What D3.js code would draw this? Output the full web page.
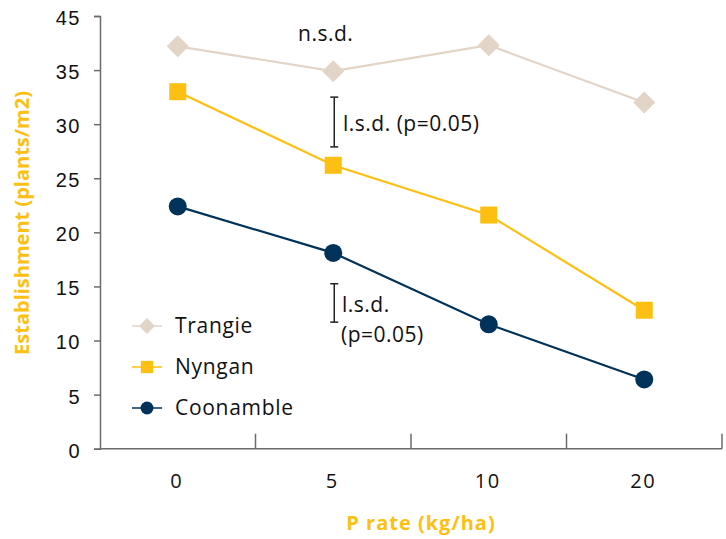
<!DOCTYPE html>
<html>
<head>
<meta charset="utf-8">
<script src="https://cdn.jsdelivr.net/npm/d3@7"></script>
<style>
  body { margin: 0; background: #fff; }
  svg { font-family: "Open Sans", "Lato", sans-serif; }
</style>
</head>
<body>
<div id="chart"></div>
<script>
const categories = ["0", "5", "10", "20"];
const yTickValues = [0, 5, 10, 15, 20, 25, 30, 35, 40];
// the top tick of the original reads "45"
const yTickLabels = ["0", "5", "10", "15", "20", "25", "30", "35", "45"];

const trangie = [37.2, 34.9, 37.3, 32.0];
const nyngan = [33.0, 26.2, 21.6, 12.8];
const coonamble = [22.4, 18.1, 11.5, 6.4];

const seriesNames = ["Trangie", "Nyngan", "Coonamble"];
const seriesColors = ["#e2d4c6", "#fdbf12", "#00325a"];
const seriesShapes = ["diamond", "square", "circle"];

// l.s.d. bars: [category, low, high]
const lsdBars = [
  ["5", 27.9, 32.5],
  ["5", 11.7, 15.25]
];

const width = 726, height = 539;
const margin = { top: 16, right: 4, bottom: 90, left: 100 };

const svg = d3.select("#chart")
  .append("svg")
  .attr("width", width)
  .attr("height", height);

const x = d3.scaleBand()
  .domain(categories)
  .range([margin.left, width - margin.right]);

const y = d3.scaleLinear()
  .domain([0, 40])
  .range([height - margin.bottom - 0.3, margin.top]);

// y axis
const yAxis = svg.append("g")
  .attr("transform", `translate(${margin.left},0)`)
  .call(d3.axisLeft(y).tickValues(yTickValues)
    .tickFormat((d, i) => yTickLabels[i]).tickSize(6).tickPadding(13));
yAxis.select(".domain").attr("stroke", "#6b6b6b").attr("stroke-width", 1.5);
yAxis.selectAll(".tick line").attr("stroke", "#6b6b6b").attr("stroke-width", 1.5);
yAxis.selectAll(".tick text")
  .style("font-size", "20px")
  .style("letter-spacing", "1.5px")
  .attr("dy", "0.42em")
  .attr("fill", "#111");

// x axis: baseline + ticks between categories pointing up
const x0 = y(0);
const xAxis = svg.append("g");
xAxis.append("line")
  .attr("x1", margin.left).attr("x2", width - margin.right)
  .attr("y1", x0).attr("y2", x0)
  .attr("stroke", "#6b6b6b").attr("stroke-width", 1.5);
const bounds = categories.slice(1).map(c => x(c)).concat([x(categories[categories.length - 1]) + x.bandwidth()]);
xAxis.selectAll(".sep")
  .data(bounds)
  .enter()
  .append("line")
  .attr("x1", d => d).attr("x2", d => d)
  .attr("y1", x0).attr("y2", x0 - 15)
  .attr("stroke", "#6b6b6b").attr("stroke-width", 1.5);
xAxis.selectAll(".lbl")
  .data(categories)
  .enter()
  .append("text")
  .attr("x", d => x(d) + x.bandwidth() / 2 - 1)
  .attr("y", x0 + 39)
  .attr("text-anchor", "middle")
  .style("font-size", "20px")
  .style("letter-spacing", "1.5px")
  .attr("fill", "#111")
  .text(d => d);

// axis titles
svg.append("text")
  .attr("x", 421)
  .attr("y", 530)
  .attr("text-anchor", "middle")
  .style("font-size", "20px")
  .style("letter-spacing", "1px")
  .style("font-weight", "bold")
  .attr("fill", "#fdbf12")
  .text("P rate (kg/ha)");

svg.append("text")
  .attr("transform", `translate(29, 223) rotate(-90)`)
  .attr("text-anchor", "middle")
  .style("font-size", "20px")
  .style("font-weight", "bold")
  .attr("fill", "#fdbf12")
  .text("Establishment (plants/m2)");

// series
const seriesData = [trangie, nyngan, coonamble];
const cx = c => x(c) + x.bandwidth() / 2;

const drawMarker = (g, shape, color, px, py) => {
  if (shape === "diamond") {
    g.append("path")
      .attr("d", `M${px},${py - 11} L${px + 11},${py} L${px},${py + 11} L${px - 11},${py} Z`)
      .attr("fill", color);
  } else if (shape === "square") {
    g.append("rect")
      .attr("x", px - 8.5).attr("y", py - 8.5)
      .attr("width", 17).attr("height", 17)
      .attr("fill", color);
  } else {
    g.append("circle")
      .attr("cx", px).attr("cy", py).attr("r", 9)
      .attr("fill", color);
  }
};

const line = d3.line()
  .x((d, i) => cx(categories[i]))
  .y(d => y(d));

seriesData.forEach((vals, s) => {
  const g = svg.append("g");
  g.append("path")
    .datum(vals)
    .attr("d", line)
    .attr("fill", "none")
    .attr("stroke", seriesColors[s])
    .attr("stroke-width", 2.2);
  vals.forEach((v, i) => drawMarker(g, seriesShapes[s], seriesColors[s], cx(categories[i]), y(v)));
});

// legend
const legend = svg.append("g");
seriesNames.forEach((name, i) => {
  const ly = 326 + i * 41;
  legend.append("line")
    .attr("x1", 132).attr("x2", 162)
    .attr("y1", ly).attr("y2", ly)
    .attr("stroke", seriesColors[i])
    .attr("stroke-opacity", 0.75)
    .attr("stroke-width", 2);
  const mg = legend.append("g").attr("transform", `translate(147,${ly}) scale(0.72) translate(-147,${-ly})`);
  drawMarker(mg, seriesShapes[i], seriesColors[i], 147, ly);
  legend.append("text")
    .attr("x", 175)
    .attr("y", ly)
    .attr("dy", "0.35em")
    .style("font-size", "21px")
    .style("letter-spacing", "0.7px")
    .attr("fill", "#111")
    .text(name);
});

// annotations
const ann = svg.append("g")
  .style("font-size", "21px")
  .style("letter-spacing", "0.5px");
lsdBars.forEach(([c, lo, hi]) => {
  const bx = cx(c) + 1;
  ann.append("line")
    .attr("x1", bx).attr("x2", bx)
    .attr("y1", y(lo)).attr("y2", y(hi))
    .attr("stroke", "#222").attr("stroke-width", 1.5);
  [lo, hi].forEach(v => ann.append("line")
    .attr("x1", bx - 4).attr("x2", bx + 4)
    .attr("y1", y(v)).attr("y2", y(v))
    .attr("stroke", "#222").attr("stroke-width", 1.5));
});

ann.append("text")
  .attr("x", 298).attr("y", 41)
  .attr("fill", "#111")
  .text("n.s.d.");

ann.append("text")
  .attr("x", 343).attr("y", 131)
  .attr("fill", "#111")
  .text("l.s.d. (p=0.05)");

ann.append("text")
  .attr("x", 342).attr("y", 312)
  .attr("fill", "#111")
  .text("l.s.d.");

ann.append("text")
  .attr("x", 341).attr("y", 342)
  .attr("fill", "#111")
  .text("(p=0.05)");
</script>
</body>
</html>
